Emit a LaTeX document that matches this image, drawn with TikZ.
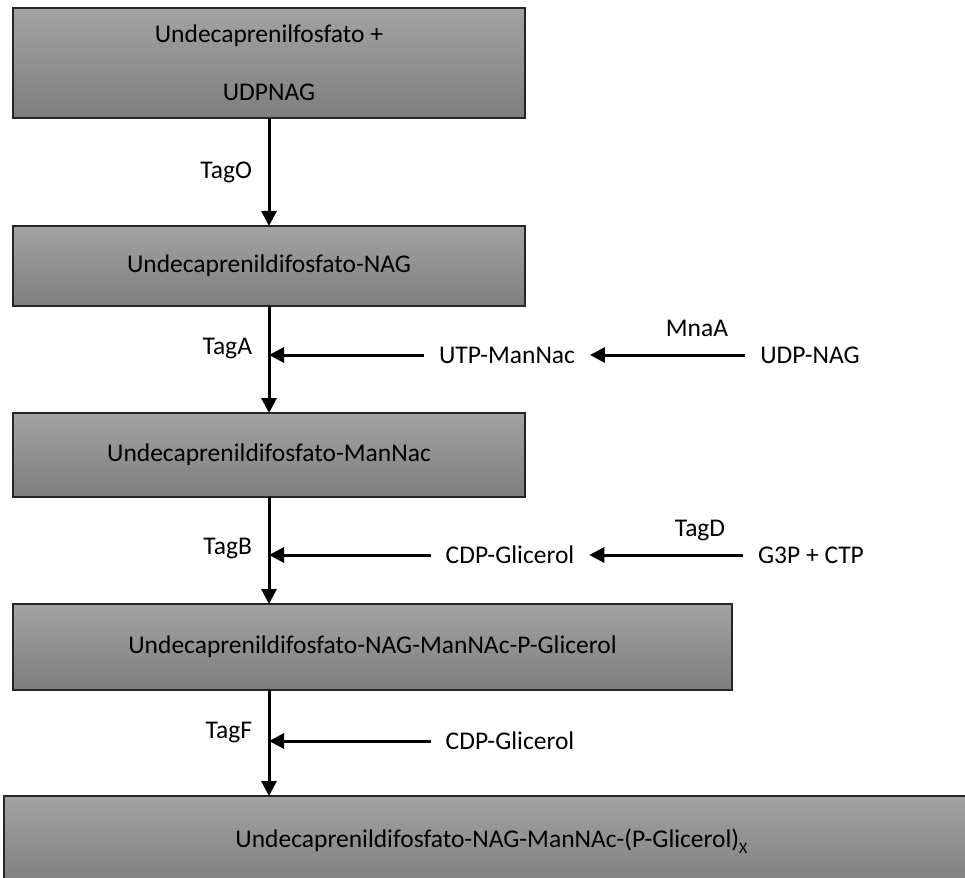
\documentclass[tikz,border=0pt]{standalone}
\usepackage{fontspec}
\setmainfont{Carlito}
\usetikzlibrary{arrows.meta}
\definecolor{boxtop}{HTML}{A3A3A3}
\definecolor{boxbottom}{HTML}{7E7E7E}
\definecolor{boxline}{HTML}{262626}
\begin{document}
\begin{tikzpicture}[x=1pt,y=-1pt,
  every node/.style={font=\fontsize{25.5}{30}\selectfont},
  stage/.style={rectangle, draw=boxline, line width=1.6pt,
    top color=boxtop, bottom color=boxbottom, inner sep=0pt, outer sep=0pt},
  enzyme/.style={inner sep=0pt, outer sep=0pt},
  substrate/.style={inner ysep=0pt, inner xsep=15pt, outer sep=0pt},
  flow/.style={line width=3pt, -{Triangle[length=15pt,width=15pt]}}]
\useasboundingbox (0,0) rectangle (965,877);
\clip (0,0) rectangle (965,877);

% main pathway boxes
\node[stage, minimum width=512pt, minimum height=110pt, align=center,
      font=\fontsize{25.5}{58}\selectfont] (s1) at (269,63)
  {Undecaprenilfosfato +\\UDPNAG};
\node[stage, minimum width=512pt, minimum height=80pt] (s2) at (269,266)
  {Undecaprenildifosfato-NAG};
\node[stage, minimum width=512pt, minimum height=84pt] (s3) at (269,455)
  {Undecaprenildifosfato-ManNac};
\node[stage, minimum width=719pt, minimum height=86pt] (s4) at (372.5,647)
  {Undecaprenildifosfato-NAG-ManNAc-P-Glicerol};
\node[stage, minimum width=975pt, minimum height=90pt] (s5) at (491.5,841)
  {Undecaprenildifosfato-NAG-ManNAc-(P-Glicerol)\raisebox{-6pt}{\fontsize{16}{16}\selectfont X}};

% side substrates
\node[substrate] (utp) at (507,355) {UTP-ManNac};
\node[substrate] (udp) at (810,355) {UDP-NAG};
\node[substrate] (cdp1) at (510,555) {CDP-Glicerol};
\node[substrate] (g3p) at (811,555) {G3P + CTP};
\node[substrate] (cdp2) at (510,741) {CDP-Glicerol};

% enzymes
\node[enzyme, anchor=east] (tago) at (252,172) {TagO};
\node[enzyme, anchor=east] (taga) at (252,349) {TagA};
\node[enzyme, anchor=east] (tagb) at (252,549) {TagB};
\node[enzyme, anchor=east] (tagf) at (252,733) {TagF};
\node[enzyme] (mnaa) at (697,328) {MnaA};
\node[enzyme] (tagd) at (700,531) {TagD};

% main chain
\draw[flow] (s1.south) -- (s2.north);
\draw[flow] (s2.south) -- (s3.north);
\draw[flow] (s3.south) -- (s3.south |- s4.north);
\draw[flow] (s3.south |- s4.south) -- (s3.south |- s5.north);

% side inputs
\draw[flow] (utp.west) -- (s3.north |- utp.west);
\draw[flow] (udp.west) -- (utp.east);
\draw[flow] (cdp1.west) -- (s3.south |- cdp1.west);
\draw[flow] (g3p.west) -- (cdp1.east);
\draw[flow] (cdp2.west) -- (s3.south |- cdp2.west);
\end{tikzpicture}
\end{document}
